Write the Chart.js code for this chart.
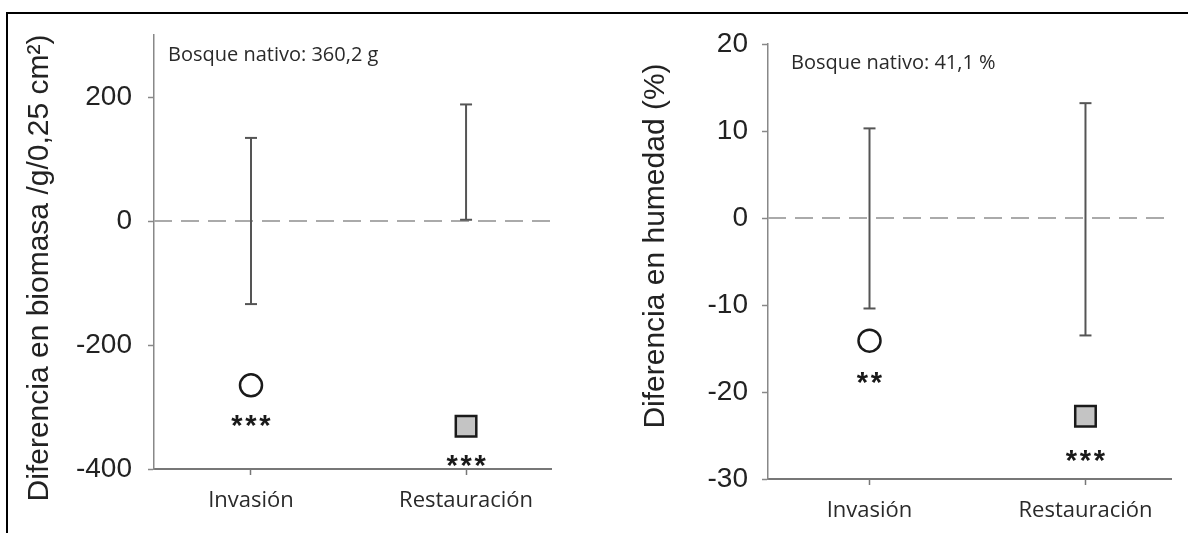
<!DOCTYPE html>
<html>
<head>
<meta charset="utf-8">
<script src="https://cdn.jsdelivr.net/npm/chart.js@4"></script>
<style>
html,body{margin:0;padding:0;background:#fff;}
#wrap{position:relative;width:1188px;height:533px;overflow:hidden;background:#fff;}
#frame{position:absolute;left:6px;top:12px;right:-10px;bottom:-10px;border-top:2px solid #000;border-left:2px solid #000;}
.cv{position:absolute;top:0;}
</style>
</head>
<body>
<div id="wrap">
  <div id="frame"></div>
  <canvas id="c1" class="cv" width="594" height="533" style="left:0px"></canvas>
  <canvas id="c2" class="cv" width="594" height="533" style="left:594px"></canvas>
</div>
<script>
// ---------- data ----------
const categories = ["Invasión", "Restauración"];

const biomasaMean = [-265, -331];
const biomasaNativeLow = [-134, 2];
const biomasaNativeHigh = [134, 188];
const biomasaSig = ["***", "***"];
const biomasaTicks = [-400, -200, 0, 200];
const biomasaTitle = "Diferencia en biomasa /g/0,25 cm\u00B2)";
const biomasaNote = "Bosque nativo: 360,2 g";

const humedadMean = [-14.1, -22.8];
const humedadNativeLow = [-10.4, -13.5];
const humedadNativeHigh = [10.3, 13.2];
const humedadSig = ["**", "***"];
const humedadTicks = [-30, -20, -10, 0, 10, 20];
const humedadTitle = "Diferencia en humedad (%)";
const humedadNote = "Bosque nativo: 41,1 %";

// ---------- helpers ----------
function textPlugin(o) {
  return {
    id: 'texts',
    afterDraw(chart) {
      const ctx = chart.ctx, xs = chart.scales.x, ys = chart.scales.y, a = chart.chartArea;
      // axis title
      ctx.save();
      ctx.translate(o.titleX, o.titleY);
      ctx.rotate(-Math.PI / 2);
      ctx.font = '30px "Liberation Sans", Arial, sans-serif';
      ctx.fillStyle = '#222';
      ctx.textAlign = 'center';
      ctx.textBaseline = 'middle';
      ctx.fillText(o.title, 0, 0);
      ctx.restore();
      // note
      ctx.save();
      ctx.font = '20px "Open Sans", sans-serif';
      ctx.fillStyle = '#2a2a2a';
      ctx.textAlign = 'left';
      ctx.textBaseline = 'middle';
      ctx.fillText(o.note, a.left + o.noteDx, o.noteY);
      ctx.restore();
      // significance stars
      ctx.save();
      ctx.font = 'bold 29px "Liberation Sans", Arial, sans-serif';
      ctx.fillStyle = '#1a1a1a';
      ctx.textAlign = 'center';
      ctx.textBaseline = 'alphabetic';
      o.sig.forEach((s, i) => {
        const px = xs.getPixelForValue(i + 1);
        const py = ys.getPixelForValue(o.mean[i]) + o.sigDy[i];
        const n = s.length, sp = 14;
        for (let k = 0; k < n; k++) {
          ctx.fillText(s[k], px + (k - (n - 1) / 2) * sp, py + 16);
        }
      });
      ctx.restore();
    }
  };
}

function build(id, o) {
  const datasets = [];
  datasets.push({
    type: 'scatter', data: [{x: 1, y: o.mean[0]}],
    pointStyle: 'circle', pointRadius: 11, pointBackgroundColor: '#fff',
    pointBorderColor: '#1a1a1a', pointBorderWidth: 2.5, clip: false
  });
  datasets.push({
    type: 'scatter', data: [{x: 2, y: o.mean[1]}],
    pointStyle: 'rect', pointRadius: 14.5, pointBackgroundColor: '#c4c4c4',
    pointBorderColor: '#1a1a1a', pointBorderWidth: 2.5, clip: false
  });
  o.low.forEach((lo, i) => {
    datasets.push({
      type: 'line', data: [{x: i + 1, y: lo}, {x: i + 1, y: o.high[i]}],
      borderColor: '#555', borderWidth: 2, pointStyle: 'line', pointRadius: 6,
      pointBorderColor: '#555', pointBorderWidth: 2, clip: false
    });
  });
  datasets.push({
    type: 'line', data: [{x: o.xMin, y: 0}, {x: o.xMax, y: 0}],
    borderColor: '#aaa', borderWidth: 2, borderDash: [18, 9], pointRadius: 0
  });

  return new Chart(document.getElementById(id), {
    type: 'scatter',
    data: {datasets},
    plugins: [textPlugin(o)],
    options: {
      responsive: false, animation: false, devicePixelRatio: 1,
      layout: {padding: {left: 0, top: o.padTop, right: o.padRight, bottom: 0}},
      plugins: {legend: {display: false}, tooltip: {enabled: false}},
      scales: {
        x: {
          type: 'linear', min: o.xMin, max: o.xMax,
          afterBuildTicks: s => { s.ticks = categories.map((c, i) => ({value: i + 1})); },
          afterFit: s => { s.height = o.xHeight; },
          ticks: {
            callback: (v, i) => categories[i], autoSkip: false, maxRotation: 0,
            font: {family: '"Open Sans", sans-serif', size: 22}, color: '#2a2a2a', padding: o.xPad
          },
          grid: {drawOnChartArea: false, drawTicks: true, tickLength: 6, color: '#777', tickWidth: 1.5},
          border: {display: true, color: '#777', width: 2}
        },
        y: {
          type: 'linear', min: o.yMin, max: o.yMax,
          afterBuildTicks: s => { s.ticks = o.ticks.map(v => ({value: v})); },
          afterFit: s => { s.width = o.yWidth; },
          ticks: {
            font: {family: '"Liberation Sans", Arial, sans-serif', size: 28}, color: '#222', padding: o.yPad
          },
          grid: {drawOnChartArea: false, drawTicks: true, tickLength: 6, color: '#888', tickWidth: 1.5},
          border: {display: true, color: '#888', width: 1.5}
        }
      }
    }
  });
}

build('c1', {
  mean: biomasaMean, low: biomasaNativeLow, high: biomasaNativeHigh, sig: biomasaSig,
  ticks: biomasaTicks, title: biomasaTitle, note: biomasaNote,
  xMin: 0.549, xMax: 2.395, yMin: -400, yMax: 300,
  padTop: 35, padRight: 43, xHeight: 64, yWidth: 154, xPad: 13, yPad: 16,
  titleX: 40, titleY: 268, noteDx: 14, noteY: 55, sigDy: [34, 33]
});

build('c2', {
  mean: humedadMean, low: humedadNativeLow, high: humedadNativeHigh, sig: humedadSig,
  ticks: humedadTicks, title: humedadTitle, note: humedadNote,
  xMin: 0.53, xMax: 2.396, yMin: -30, yMax: 20,
  padTop: 44, padRight: 15, xHeight: 54, yWidth: 174, xPad: 13, yPad: 14,
  titleX: 62, titleY: 246, noteDx: 23, noteY: 63, sigDy: [35, 38]
});
</script>
</body>
</html>
